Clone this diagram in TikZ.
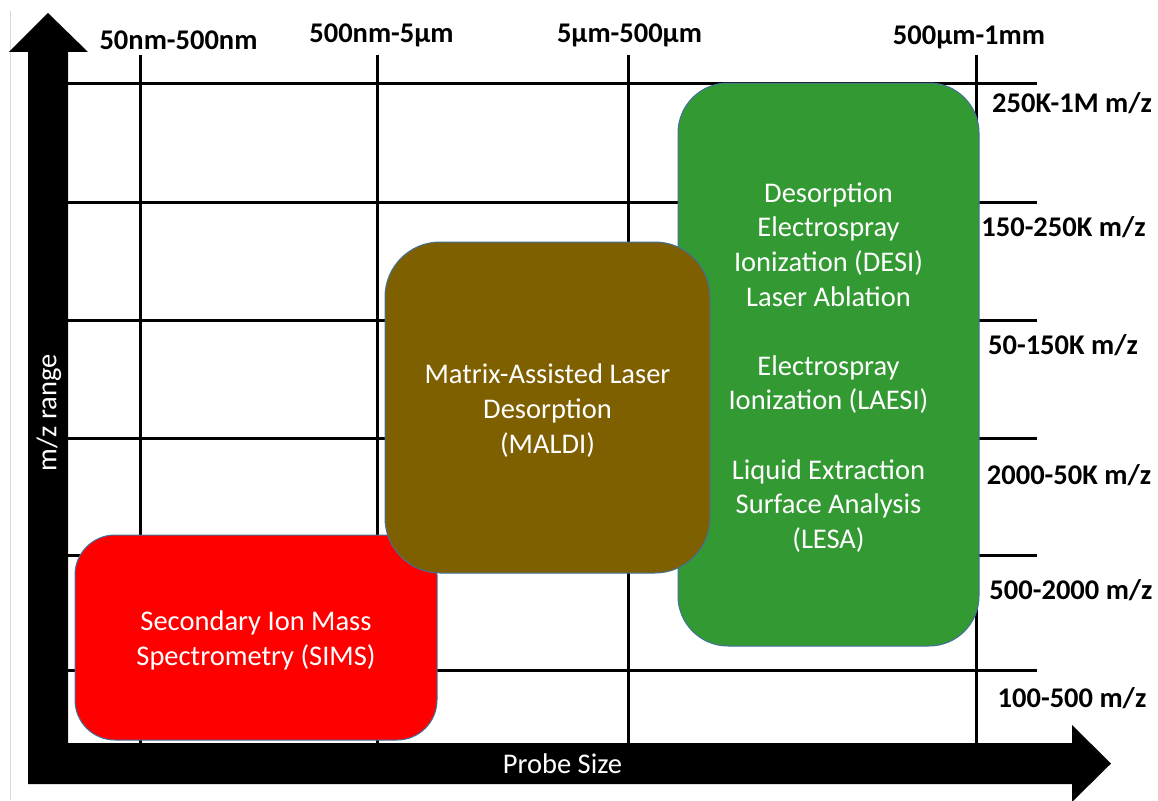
\documentclass[tikz,border=0pt]{standalone}
\usepackage{fontspec}
\setmainfont{Carlito}
\definecolor{simsred}{HTML}{FF0000}
\definecolor{maldibrown}{HTML}{7F6000}
\definecolor{desigreen}{HTML}{339933}
\definecolor{boxline}{HTML}{41719C}
\definecolor{pageedge}{HTML}{D9D9D9}
\begin{document}
\begin{tikzpicture}[x=1pt,y=-1pt,
  grid/.style={line width=3pt, black},
  techbox/.style={draw=boxline, line width=1pt, rounded corners=#1, inner sep=0pt},
  techtext/.style={align=center, text=white, inner sep=0pt,
    font=\fontsize{28.5}{34.6}\selectfont},
  axislabel/.style={text=white, inner sep=0pt, font=\fontsize{28.5}{34}\selectfont},
  scalelabel/.style={anchor=base, inner sep=0pt, font=\bfseries\fontsize{28.5}{34}\selectfont}]
\useasboundingbox (0,0) rectangle (1158,800);

% page edge
\draw[pageedge, line width=1pt] (10,11) -- (10,800);

% grid
\foreach \y in {83,202,320,438,555,670}
  \draw[grid] (68,\y) -- (1037,\y);
\foreach \x in {140,377,628,976}
  \draw[grid] (\x,55) -- (\x,743);

% technique regions
\node[techbox=40, fill=simsred, minimum width=362pt, minimum height=205pt]
  (sims) at (256,637.5) {};
\node[techtext] (simstext) at ([yshift=-3pt]sims.center)
  {Secondary Ion Mass\\Spectrometry (SIMS)};
\node[techbox=50, fill=desigreen, minimum width=301pt, minimum height=563pt]
  (desi) at (828.5,364.5) {};
\node[techtext] (desitext) at ([yshift=-3pt]desi.center)
  {Desorption\\Electrospray\\Ionization (DESI)\\Laser Ablation\\[34.6pt]Electrospray\\Ionization (LAESI)\\[34.6pt]Liquid Extraction\\Surface Analysis\\(LESA)};
\node[techbox=55, fill=maldibrown, minimum width=325pt, minimum height=331pt]
  (maldi) at (547.5,407.5) {};
\node[techtext] (malditext) at ([yshift=-3pt]maldi.center)
  {Matrix-Assisted Laser\\Desorption\\(MALDI)};

% axes
\fill[black] (28,784) -- (28,52) -- (9,52) -- (48,13) -- (88,52) -- (68,52)
  -- (68,743) -- (1072,743) -- (1072,725) -- (1111,763.5) -- (1072,802)
  -- (1072,784) -- cycle;
\node[axislabel, rotate=90] (yaxis) at (49,413) {m/z range};
\node[axislabel, anchor=base] (xaxis) at (562.5,773) {Probe Size};

% probe size columns
\node[scalelabel] (c1) at (178.5,50) {50nm-500nm};
\node[scalelabel] (c2) at (381.5,43) {500nm-5µm};
\node[scalelabel] (c3) at (629.5,43) {5µm-500µm};
\node[scalelabel] (c4) at (969,45) {500µm-1mm};

% m/z rows
\node[scalelabel] (r1) at (1072,112) {250K-1M m/z};
\node[scalelabel] (r2) at (1063.5,236) {150-250K m/z};
\node[scalelabel] (r3) at (1063,354) {50-150K m/z};
\node[scalelabel] (r4) at (1069,484) {2000-50K m/z};
\node[scalelabel] (r5) at (1071,599) {500-2000 m/z};
\node[scalelabel] (r6) at (1072,707) {100-500 m/z};
\end{tikzpicture}
\end{document}
